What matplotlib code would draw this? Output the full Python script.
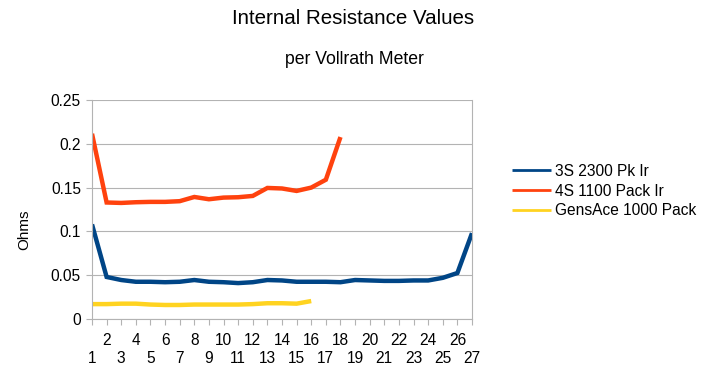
import matplotlib
matplotlib.use("Agg")
import matplotlib.pyplot as plt

plt.rcParams['font.family'] = ['Liberation Sans', 'DejaVu Sans']

categories = list(range(1, 28))
series_names = ["3S 2300 Pk Ir", "4S 1100 Pack Ir", "GensAce 1000 Pack"]
s3_2300 = [0.108, 0.048, 0.0445, 0.0425, 0.0425, 0.042, 0.0425, 0.0445, 0.0425, 0.042,
           0.041, 0.042, 0.0445, 0.044, 0.0425, 0.0425, 0.0425, 0.042, 0.0445, 0.044,
           0.0435, 0.0435, 0.044, 0.044, 0.047, 0.0525, 0.098]
s4_1100 = [0.2115, 0.133, 0.1325, 0.1333, 0.1337, 0.1337, 0.1345, 0.1393, 0.1367, 0.1386,
           0.139, 0.1405, 0.1496, 0.149, 0.1462, 0.150, 0.159, 0.2077]
gensace = [0.017, 0.017, 0.0175, 0.0175, 0.0165, 0.016, 0.016, 0.0165, 0.0165, 0.0165,
           0.0165, 0.017, 0.018, 0.018, 0.0175, 0.0205]
colors = ["#004586", "#ff420e", "#ffd320"]
yticks = [0, 0.05, 0.1, 0.15, 0.2, 0.25]
ytick_labels = ["0", "0.05", "0.1", "0.15", "0.2", "0.25"]

fig = plt.figure(figsize=(7.07, 3.71), dpi=100)
ax = fig.add_axes([92/707, 1 - 319/371, 380/707, 219/371])

for vals, name, c in zip([s3_2300, s4_1100, gensace], series_names, colors):
    ax.plot(categories[:len(vals)], vals, color=c, lw=3.2, label=name,
            solid_joinstyle='miter', solid_capstyle='butt')

ax.set_xlim(categories[0], categories[-1])
ax.set_ylim(0, 0.25)
ax.set_yticks(yticks)
ax.set_yticklabels(ytick_labels)

odd = [c for c in categories if c % 2 == 1]
even = [c for c in categories if c % 2 == 0]
ax.set_xticks(odd)
ax.set_xticklabels([str(c) for c in odd])
ax.set_xticks(even, minor=True)
ax.set_xticklabels([str(c) for c in even], minor=True)

ax.grid(axis='y', color='#b3b3b3', lw=0.8)
ax.set_axisbelow(True)
for s in ['left', 'right']:
    ax.spines[s].set_color('#b3b3b3')
    ax.spines[s].set_linewidth(0.8)
ax.spines['top'].set_visible(False)
ax.spines['bottom'].set_color('#b3b3b3')
ax.spines['bottom'].set_linewidth(0.8)
ax.tick_params(axis='both', which='both', colors='#b3b3b3', labelcolor='black',
               labelsize=11.2, length=4, width=0.8, direction='out')
ax.tick_params(axis='y', pad=4)
ax.tick_params(axis='x', which='minor', pad=6)
ax.tick_params(axis='x', which='major', pad=19)

fig.text(0.5, 1 - 19/371, "Internal Resistance Values", ha='center', va='center', fontsize=14.8)
fig.text(354/707, 1 - 60/371, "per Vollrath Meter", ha='center', va='center', fontsize=12.7)
fig.text(24/707, 1 - 230/371, "Ohms", rotation=90, ha='center', va='center', fontsize=11)

leg = fig.legend(loc='center left', bbox_to_anchor=(498/707, 1 - 191/371), frameon=False,
                 fontsize=11.2, handlelength=2.5, handletextpad=0.25, labelspacing=0.3)
for line in leg.get_lines():
    line.set_linewidth(2.0)

fig.savefig("out.png", dpi=100)
